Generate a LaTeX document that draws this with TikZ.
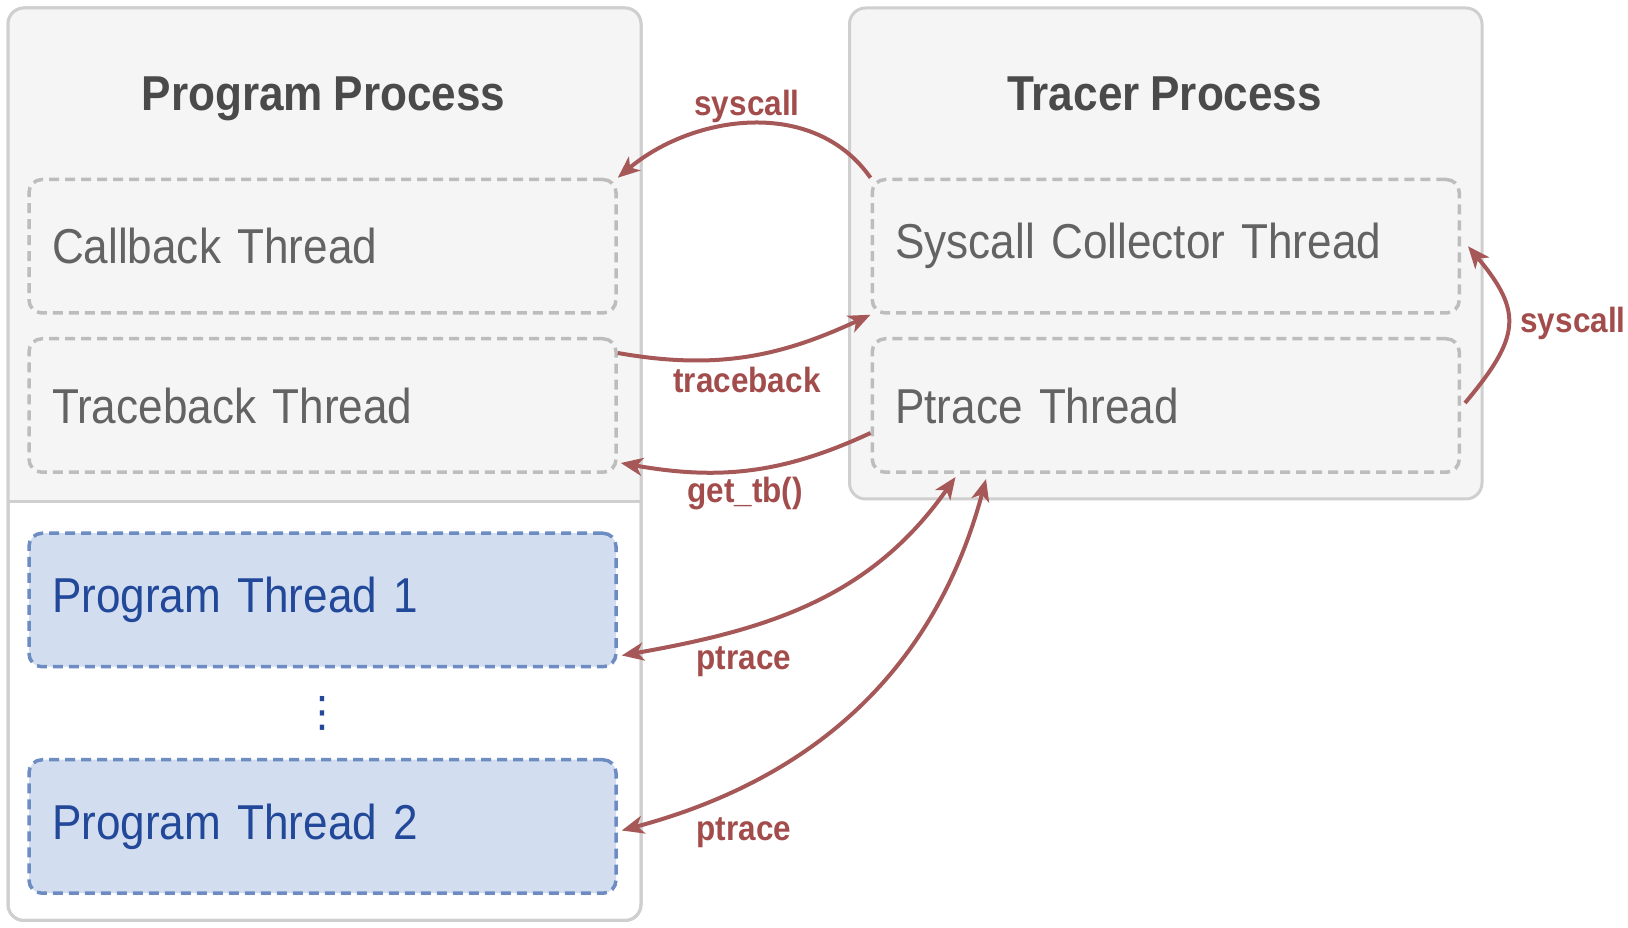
\documentclass[tikz,border=0pt]{standalone}
\usepackage{fontspec}
\setmainfont{Liberation Sans}[FakeStretch=0.9]
\newfontfamily\dejavu{DejaVu Sans}
\usetikzlibrary{arrows.meta}
\newcommand\mythreadfont{\fontsize{49pt}{58pt}\selectfont\spaceskip=9.3pt plus 2pt minus 1pt\relax}
\newcommand\mytitlefont{\fontsize{49pt}{58pt}\selectfont\bfseries\spaceskip=10.8pt plus 2pt minus 1pt\relax}
\definecolor{boxgray}{HTML}{F5F5F5}
\definecolor{procline}{HTML}{CFCFCF}
\definecolor{dashgray}{HTML}{BDBDBD}
\definecolor{titlegray}{HTML}{4A4A4A}
\definecolor{textgray}{HTML}{636363}
\definecolor{arrowred}{HTML}{A65757}
\definecolor{labelred}{HTML}{A24C4C}
\definecolor{bluefill}{HTML}{D2DEF0}
\definecolor{blueline}{HTML}{6C8CC2}
\definecolor{bluetext}{HTML}{22489A}
\begin{document}
\begin{tikzpicture}[x=1pt,y=1pt,
  procborder/.style={draw=procline, line width=3pt},
  thread/.style={draw=dashgray, fill=boxgray, line width=3.5pt, dash pattern=on 10pt off 6pt,
     rounded corners=13pt, minimum width=587pt, minimum height=133.5pt, inner xsep=23pt,
     text width=541pt, align=left, text=textgray, font=\mythreadfont},
  pthread/.style={thread, draw=blueline, fill=bluefill, text=bluetext},
  title/.style={font=\mytitlefont, text=titlegray, anchor=base},
  lbl/.style={font=\fontsize{35pt}{42pt}\selectfont\bfseries, text=labelred},
  redarrow/.style={draw=arrowred, line width=4pt, -{Stealth[length=22pt,width=18pt,inset=6pt]}},
  biarrow/.style={redarrow, {Stealth[length=22pt,width=18pt,inset=6pt]}-{Stealth[length=22pt,width=18pt,inset=6pt]}}
]
\useasboundingbox (0,0) rectangle (1628,928);
% Program process box
\draw[procborder, fill=white, rounded corners=16pt] (8,7.5) rectangle (641,920);
\begin{scope}
\clip[rounded corners=16pt] (8,7.5) rectangle (641,920);
\fill[boxgray] (8,426) rectangle (641,920);
\end{scope}
\draw[procborder] (8,426) -- (641,426);
\draw[procborder, rounded corners=16pt] (8,7.5) rectangle (641,920);
% Tracer process box
\draw[procborder, fill=boxgray, rounded corners=16pt] (849.5,429) rectangle (1482,920);
% titles
\node[title] (ptitle) at (323.5,817) {Program Process};
\node[title] (ttitle) at (1164.7,817) {Tracer Process};
% threads
\node[thread] (cb) at (322.5,681.75) {Callback Thread};
\node[thread] (tb) at (322.5,522.5) {Traceback Thread};
\node[thread] (sc) at (1165.75,681.75) {Syscall Collector Thread};
\node[thread] (ptr) at (1165.75,522.5) {Ptrace Thread};
\node[pthread] (pt1) at (322.5,328) {Program Thread 1};
\node[pthread] (pt2) at (322.5,101.5) {Program Thread 2};
\node[text=bluetext, font=\dejavu\fontsize{42pt}{48pt}\selectfont] (dots) at (322.5,215) {⋮};
% arrows
\draw[redarrow] (sc.north west) to[out=125, in=40] (cb.north east);
\draw[redarrow] ([yshift=-16pt]tb.north east) to[out=-10, in=205] (sc.south west);
\draw[redarrow] ([yshift=-27.5pt]ptr.west) to[out=205, in=-10] ([shift={(3pt,11pt)}]tb.south east);
\draw[redarrow] ([xshift=4pt,yshift=2.5pt]ptr.east) to[out=50, in=-50, looseness=1.4] ([xshift=7pt]sc.east);
\draw[biarrow] ([shift={(4pt,13pt)}]pt1.south east) to[out=10, in=235] ([shift={(85pt,-3pt)}]ptr.south west);
\draw[biarrow] ([shift={(4pt,-4pt)}]pt2.east) to[out=15, in=255] ([shift={(115.5pt,-5pt)}]ptr.south west);
% labels
\node[lbl] (l1) at (747,821.5) {syscall};
\node[lbl] (l2) at (747,548) {traceback};
\node[lbl] (l3) at (745,434) {get\_tb()};
\node[lbl] (l4) at (1573,604.5) {syscall};
\node[lbl] (l5) at (744,266.4) {ptrace};
\node[lbl] (l6) at (744,95) {ptrace};
\end{tikzpicture}
\end{document}
